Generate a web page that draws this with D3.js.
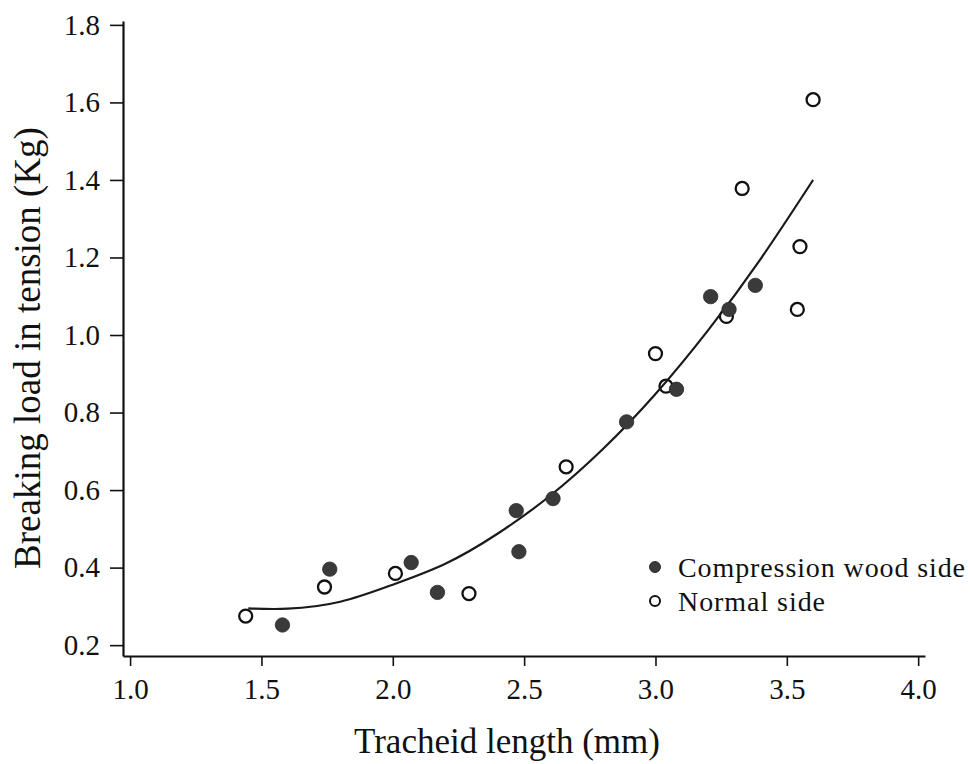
<!DOCTYPE html>
<html>
<head>
<meta charset="utf-8">
<script src="https://cdn.jsdelivr.net/npm/d3@7"></script>
<style>
  html, body { margin: 0; padding: 0; background: #fff; }
  svg { display: block; }
  text { font-family: "Liberation Serif", "Times New Roman", Times, serif; fill: #111; }
</style>
</head>
<body>
<svg id="chart" width="970" height="764"></svg>
<script>
// Tracheid length (mm) vs breaking load in tension (Kg)
const compressionSide = [
  [1.58, 0.252], [1.76, 0.396], [2.07, 0.413], [2.17, 0.336],
  [2.47, 0.547], [2.48, 0.441], [2.61, 0.578], [2.89, 0.776],
  [3.08, 0.860], [3.21, 1.099], [3.28, 1.066], [3.38, 1.128]
];
const normalSide = [
  [1.44, 0.275], [1.74, 0.350], [2.01, 0.385], [2.29, 0.333],
  [2.66, 0.660], [3.00, 0.952], [3.04, 0.868], [3.27, 1.048],
  [3.33, 1.378], [3.55, 1.228], [3.54, 1.066], [3.60, 1.607]
];
// fitted trend through both sides
const trend = [
  [1.45, 0.295], [1.6, 0.294], [1.8, 0.312], [2.0, 0.356], [2.2, 0.410],
  [2.4, 0.488], [2.6, 0.586], [2.8, 0.706], [3.0, 0.848], [3.2, 1.012],
  [3.4, 1.196], [3.6, 1.400]
];
const xTicks = [1.0, 1.5, 2.0, 2.5, 3.0, 3.5, 4.0];
const yTicks = [0.2, 0.4, 0.6, 0.8, 1.0, 1.2, 1.4, 1.6, 1.8];
const legendLabels = ["Compression wood side", "Normal side"];
const xTitle = "Tracheid length (mm)";
const yTitle = "Breaking load in tension (Kg)";

const svg = d3.select("#chart");
const serif = '"Liberation Serif", "Times New Roman", Times, serif';

const x = d3.scaleLinear().domain([0.973, 4.026]).range([123, 925]);
const y = d3.scaleLinear().domain([0.172, 1.81]).range([656, 21]);

// axes
const xAxis = svg.append("g")
  .attr("transform", `translate(0,${y(0.172)})`)
  .call(d3.axisBottom(x).tickValues(xTicks).tickFormat(d3.format(".1f"))
    .tickSize(10).tickPadding(12).tickSizeOuter(0));
const yAxis = svg.append("g")
  .attr("transform", `translate(${x(0.973)},0)`)
  .call(d3.axisLeft(y).tickValues(yTicks).tickFormat(d3.format(".1f"))
    .tickSize(13).tickPadding(10).tickSizeOuter(0));

[xAxis, yAxis].forEach(g => {
  g.attr("font-family", serif).attr("font-size", 29);
  g.select(".domain").attr("stroke", "#111").attr("stroke-width", 2.2);
  g.selectAll(".tick line").attr("stroke", "#111").attr("stroke-width", 1.6);
  g.selectAll(".tick text").attr("fill", "#111");
});

// axis titles
svg.append("text")
  .attr("x", 507).attr("y", 753)
  .attr("text-anchor", "middle")
  .attr("font-size", 35)
  .text(xTitle);

svg.append("text")
  .attr("transform", "translate(40,348) rotate(-90)")
  .attr("text-anchor", "middle")
  .attr("font-size", 37)
  .text(yTitle);

// open markers
svg.append("g").selectAll("circle").data(normalSide).join("circle")
  .attr("cx", d => x(d[0])).attr("cy", d => y(d[1]))
  .attr("r", 6.5)
  .attr("fill", "#fff").attr("stroke", "#111").attr("stroke-width", 2.3);

// trend curve
svg.append("path")
  .datum(trend)
  .attr("d", d3.line().x(d => x(d[0])).y(d => y(d[1])).curve(d3.curveNatural))
  .attr("fill", "none").attr("stroke", "#1a1a1a").attr("stroke-width", 2.2);

// filled markers
svg.append("g").selectAll("circle").data(compressionSide).join("circle")
  .attr("cx", d => x(d[0])).attr("cy", d => y(d[1]))
  .attr("r", 7.2)
  .attr("fill", "#3a3a3a").attr("stroke", "#2a2a2a").attr("stroke-width", 0.8);

// legend
const legend = svg.append("g").attr("transform", "translate(655,567)");
const rows = legend.selectAll("g").data(legendLabels).join("g")
  .attr("transform", (d, i) => `translate(0,${i * 34})`);
rows.append("circle")
  .attr("r", (d, i) => i === 0 ? 5.5 : 5)
  .attr("fill", (d, i) => i === 0 ? "#3a3a3a" : "#fff")
  .attr("stroke", "#111").attr("stroke-width", (d, i) => i === 0 ? 0.8 : 2);
rows.append("text")
  .attr("x", 23).attr("y", 10)
  .attr("font-size", 28)
  .attr("textLength", (d, i) => i === 0 ? 287 : 147)
  .attr("lengthAdjust", "spacing")
  .text(d => d);
</script>
</body>
</html>
